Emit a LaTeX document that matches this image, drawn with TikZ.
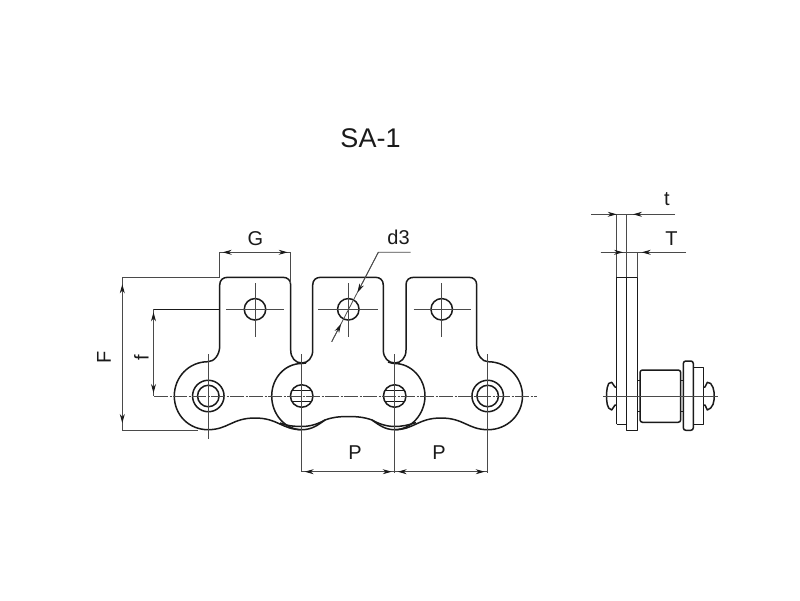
\documentclass[tikz,border=0pt]{standalone}
\usepackage{fontspec}
\setmainfont{Liberation Sans}
\usepackage{xcolor}
\usepackage{tikz}
\usetikzlibrary{positioning, calc}
\usetikzlibrary{arrows.meta}
\definecolor{inkdark}{HTML}{1A1A1A}
\definecolor{inkthin}{HTML}{4A4A4A}
\tikzstyle{outline} =
[
	draw=inkdark,line width=1.5pt,line join=round
]
\tikzstyle{hole} =
[
	draw=inkdark,circle,line width=1.5pt,inner sep=0pt,outer sep=0pt,
	minimum size=21.5pt
]
\tikzstyle{dimline} =
[
	draw=inkthin,line width=0.8pt
]
\tikzstyle{dimarrow} =
[
	dimline,shorten <=3pt,shorten >=3pt,
	{Stealth[length=9pt,width=5pt,inkdark]}-{Stealth[length=9pt,width=5pt,inkdark]}
]
\tikzstyle{tiparrow} =
[
	dimline,-{Stealth[length=9pt,width=5pt,inkdark]}
]
\tikzstyle{centerline} =
[
	draw=inkthin,line width=0.75pt
]
\tikzstyle{chainline} =
[
	draw=inkthin,line width=0.8pt,dash pattern=on 14pt off 1.5pt on 2pt off 1.5pt
]
\tikzstyle{dimlabel} =
[
	text=inkdark,font=\fontsize{20}{22}\selectfont,inner sep=0pt
]

\begin{document}
\begin{tikzpicture}[x=1pt,y=-1pt]
\useasboundingbox (0,0) rectangle (800,600);

\node[text=inkdark, font=\fontsize{27}{30}\selectfont, inner sep=0pt] (title) at (370.5,138.5) {SA-1};

% link plate with the three tabs
\path[outline]
	(219.7,285) .. controls (219.7,280) and (223,277.3) .. (227.7,277.3) -- (282.7,277.3)
	.. controls (287.5,277.3) and (290.7,280) .. (290.7,285) -- (290.7,350)
	.. controls (290.7,358) and (295.5,363) .. (301.7,363)
	.. controls (308,363) and (312.7,358) .. (312.7,350) -- (312.7,285)
	.. controls (312.7,280) and (316,277.3) .. (320.7,277.3) -- (375.3,277.3)
	.. controls (380,277.3) and (383.3,280) .. (383.3,285) -- (383.3,350)
	.. controls (383.3,358) and (388.5,363) .. (394.7,363)
	.. controls (401,363) and (406,358) .. (406,350) -- (406,285)
	.. controls (406,280) and (409,277.3) .. (414,277.3) -- (468.7,277.3)
	.. controls (473.5,277.3) and (476.7,280) .. (476.7,285) -- (476.7,346)
	.. controls (477,355) and (482,361.7) .. (488,361.7)
	.. controls (507,361.7) and (522.5,377) .. (522.5,396)
	.. controls (522.5,415) and (507,429.7) .. (488,429.7)
	.. controls (468,429.7) and (464,418) .. (441,418)
	.. controls (418,418) and (414,429.7) .. (394.7,429.7)
	.. controls (385,429.7) and (379,425) .. (372,420)
	.. controls (364,417) and (356,416.5) .. (348,416.5)
	.. controls (340,416.5) and (333,417) .. (325,420)
	.. controls (318,425) and (312,429.7) .. (301.7,429.7)
	.. controls (282,429.7) and (278,418) .. (255,418)
	.. controls (232,418) and (228,429.7) .. (208,429.7)
	.. controls (189,429.7) and (174.3,415) .. (174.3,396)
	.. controls (174.3,377) and (189,361.7) .. (208,361.7)
	.. controls (214,361.7) and (219.7,355) .. (219.7,346) -- cycle;

% inner link arcs
\path[outline]
	(306,363) .. controls (304,363.5) and (303,363.5) .. (301.7,363.5)
	.. controls (285,363.5) and (271.7,378) .. (271.7,396)
	.. controls (271.7,414) and (285,429.7) .. (301.7,429.7);
\path[outline]
	(388,362) .. controls (391,363) and (393,363.5) .. (394.7,363.5)
	.. controls (411,363.5) and (425,378) .. (425,396)
	.. controls (425,414) and (411,429.7) .. (394.7,429.7);
\path[outline]
	(280,423) .. controls (287,426) and (295,426.5) .. (301.7,426.5)
	.. controls (310,426.5) and (318,424) .. (325,420);
\path[outline]
	(372,420) .. controls (379,424) and (387,426.5) .. (394.7,426.5)
	.. controls (402,426.5) and (409,425) .. (416,422.5);

% tab holes
\node[hole] (H1) at (255,309.3) {};
\node[hole] (H2) at (348.3,309.3) {};
\node[hole] (H3) at (441.7,309.3) {};

% pins
\node[hole, minimum size=31.5pt] (E1o) at (208.3,396) {};
\node[hole] (E1) at (208.3,396) {};
\node[hole, minimum size=31.5pt] (E2o) at (487.7,396) {};
\node[hole] (E2) at (487.7,396) {};
\node[hole, minimum size=22.5pt] (M1) at (301.7,396) {};
\node[hole, minimum size=22.5pt] (M2) at (394.7,396) {};

\path[outline]
	($(M1)+(-9.5,-5.5)$) edge ($(M1)+(9.5,-5.5)$)
	($(M1)+(-9.5,5.5)$) edge ($(M1)+(9.5,5.5)$)
	($(M2)+(-9.5,-5.5)$) edge ($(M2)+(9.5,-5.5)$)
	($(M2)+(-9.5,5.5)$) edge ($(M2)+(9.5,5.5)$);

% centre lines
\path[centerline]
	($(H1)+(-29,0)$) edge ($(H1)+(29,0)$)
	($(H1)+(0,-26)$) edge ($(H1)+(0,28)$)
	($(H2)+(-30,0)$) edge ($(H2)+(30,0)$)
	($(H2)+(0,-26)$) edge ($(H2)+(0,28)$)
	($(H3)+(-28,0)$) edge ($(H3)+(29,0)$)
	($(H3)+(0,-26)$) edge ($(H3)+(0,28)$);
\path[centerline]
	($(E1)+(0,-42)$) edge ($(E1)+(0,43)$)
	($(M1)+(0,-42)$) edge ($(M1)+(0,76)$)
	($(M2)+(0,-42)$) edge ($(M2)+(0,77)$)
	($(E2)+(0,-42)$) edge ($(E2)+(0,77)$);

\coordinate (axisL) at (154,396);
\coordinate (axisR) at (537,396);
\path[chainline] (axisL) edge (axisR);

% G
\coordinate (GL) at (219.7,252.3);
\coordinate (GR) at (290.7,252.3);
\node[dimlabel] (G) at (255.5,238.5) {G};
\path[dimline] (GL) edge (219.7,277.3) (GR) edge (290.7,283) (GL) edge (GR);
\draw[dimarrow] (GL) -- (GR);

% F
\coordinate (Ft) at (122.3,277.3);
\coordinate (Fb) at (122.3,430);
\node[dimlabel, rotate=90] (F) at (104,357) {F};
\path[dimline] (Ft) edge (220,277.3) (Fb) edge (198,430) (Ft) edge (Fb);
\draw[dimarrow, shorten <=7pt, shorten >=7pt] (Ft) -- (Fb);

% f
\coordinate (ft) at (153.5,309.3);
\coordinate (fb) at (153.5,396);
\node[dimlabel, rotate=90] (f) at (141.5,358) {f};
\path[outline, line width=1.1pt] (ft) edge (219,309.3);
\path[dimline] (ft) edge (fb);
\draw[dimarrow] (ft) -- (fb);

% d3
\coordinate (dL) at (331.7,341.7);
\coordinate (dK) at (378.3,252.3);
\coordinate (dR) at (410.7,252.3);
\coordinate (dA) at (357.5,292.5);
\coordinate (dB) at (341,324);
\node[dimlabel] (d3) at (398.5,237.5) {d3};
\draw[dimline] (dL) -- (dK) -- (dR);
\draw[tiparrow] (dK) -- (dA);
\draw[tiparrow] (dL) -- (dB);

% P
\coordinate (P0) at (301.7,471.7);
\coordinate (P1) at (394.7,471.7);
\coordinate (P2) at (487.7,471.7);
\node[dimlabel] (PA) at (355,452.5) {P};
\node[dimlabel] (PB) at (439,452.5) {P};
\path[dimline] (P0) edge (P2);
\draw[dimarrow] (P0) -- (P1);
\draw[dimarrow] (P1) -- (P2);

% side view plates
\path[outline] (616.7,424.3) -- (616.7,277.3) -- (637.3,277.3) -- (637.3,430.3) -- (626.3,430.3) -- (626.3,277.3);
\path[outline] (616.7,424.3) -- (626.3,424.3);

% bushing
\path[outline, rounded corners=2.5pt] (640,370) rectangle (680.7,422.3);
\path[outline, line width=1pt] (637.3,380) -- (640,380) (637.3,411.7) -- (640,411.7) (680.7,380) -- (683.3,380) (680.7,411.7) -- (683.3,411.7);
\path[outline, rounded corners=2.5pt] (683.3,361) rectangle (693.3,430.3);
\path[outline] (693.3,367.7) -- (703.3,367.7) -- (703.3,424.3) -- (693.3,424.3);

% pin heads
\path[outline]
	(703.3,387) -- (705,387) -- (707.3,382.3) -- (710.7,383.5)
	.. controls (712.5,386) and (714,389) .. (714,392) -- (714,400)
	.. controls (714,403) and (712.5,406) .. (710.7,408)
	-- (707.3,410) -- (705,405) -- (703.3,405);
\path[outline]
	(616.7,387) -- (615,387) -- (611.7,382.3) -- (608.7,383.5)
	.. controls (607.5,386) and (606.7,389) .. (606.7,392) -- (606.7,400)
	.. controls (606.7,403) and (607.5,406) .. (608.7,408)
	-- (611.7,410) -- (615,405) -- (616.7,405);

\coordinate (axisSL) at (603,396);
\coordinate (axisSR) at (717.7,396);
\draw[centerline] (axisSL) -- (axisSR);

% t and T
\coordinate (tL) at (591,214.3);
\coordinate (tA) at (616.7,214.3);
\coordinate (tB) at (626.7,214.3);
\coordinate (tR) at (675,214.3);
\coordinate (tC) at (633,214.3);
\node[dimlabel] (t) at (667,199) {t};
\path[dimline] (tA) edge (616.7,277.3) (tB) edge (626.7,277.3) (tL) edge (tR);
\draw[tiparrow] (tL) -- (tA);
\draw[tiparrow] (tR) -- (tC);

\coordinate (TL) at (600.7,252.3);
\coordinate (TA) at (623,252.3);
\coordinate (TB) at (637.3,252.3);
\coordinate (TC) at (641.7,252.3);
\coordinate (TR) at (686,252.3);
\node[dimlabel] (T) at (671.5,239) {T};
\path[dimline] (TB) edge (637.3,277.3) (TL) edge (TR);
\draw[tiparrow] (TL) -- (TA);
\draw[tiparrow] (TR) -- (TC);
\end{tikzpicture}
\end{document}
